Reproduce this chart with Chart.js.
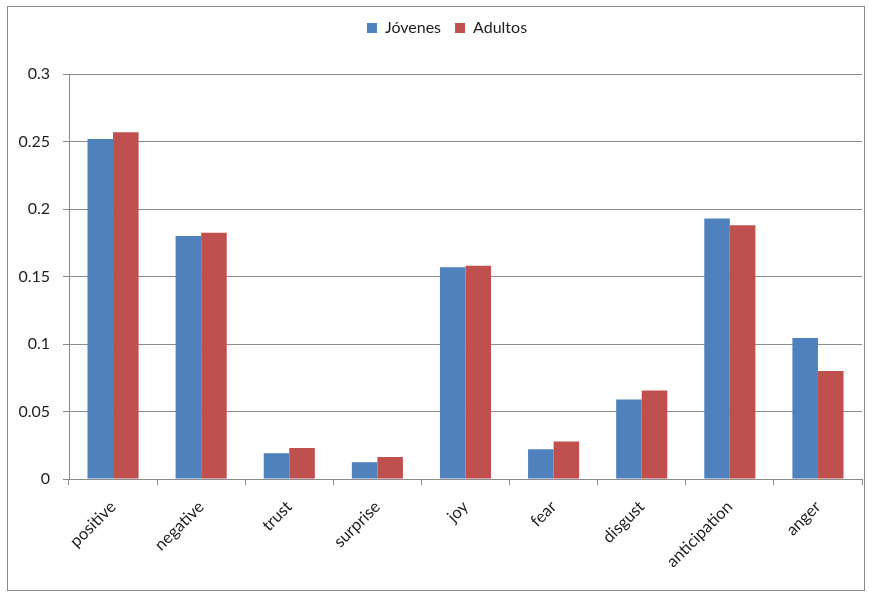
<!DOCTYPE html>
<html>
<head>
<meta charset="utf-8">
<script src="https://cdn.jsdelivr.net/npm/chart.js@4/dist/chart.umd.min.js"></script>
<style>
    html, body { margin: 0; padding: 0; background: #fff; }
    #wrap { position: relative; width: 869px; height: 594px; }
    #frame { position: absolute; left: 7px; top: 6px; width: 858px; height: 585px; border: 1px solid #8c8c8c; box-sizing: border-box; pointer-events: none; }
    canvas { position: absolute; left: 0; top: 0; }
</style>
</head>
<body>
<div id="wrap">
    <canvas id="emotionChart" width="869" height="594"></canvas>
    <div id="frame"></div>
</div>
<script>
// Emotion proportions per age group
const categories = ['positive', 'negative', 'trust', 'surprise', 'joy', 'fear', 'disgust', 'anticipation', 'anger'];
const jovenes = [0.252, 0.180, 0.019, 0.0125, 0.157, 0.022, 0.059, 0.193, 0.1045];
const adultos = [0.257, 0.1825, 0.023, 0.0163, 0.158, 0.0277, 0.0655, 0.188, 0.080];
const yTicks = [0, 0.05, 0.1, 0.15, 0.2, 0.25, 0.3];

const font = "Lato, 'Liberation Sans', sans-serif";
const padLeft = 10;
const padRight = 7;

// nudge the legend right so it sits centred over the plot
const legendShift = {
    id: 'legendShift',
    afterLayout(chart) {
        chart.legend.left += 11;
        chart.legend.right += 11;
    }
};

let ctx = document.getElementById('emotionChart').getContext('2d');

new Chart(ctx, {
    type: 'bar',
    data: {
        labels: categories,
        datasets: [
            {
                label: 'Jóvenes',
                data: jovenes,
                backgroundColor: '#4F81BD',
                borderWidth: 0
            },
            {
                label: 'Adultos',
                data: adultos,
                backgroundColor: '#C0504D',
                borderWidth: 0
            }
        ]
    },
    plugins: [legendShift],
    options: {
        responsive: false,
        animation: false,
        devicePixelRatio: 1,
        layout: {
            padding: { left: padLeft, right: padRight, top: 6, bottom: 0 }
        },
        datasets: {
            bar: {
                categoryPercentage: 0.58,
                barPercentage: 1
            }
        },
        scales: {
            x: {
                grid: {
                    display: true,
                    offset: true,
                    drawOnChartArea: false,
                    drawTicks: true,
                    tickLength: 6,
                    color: '#8c8c8c'
                },
                border: { display: true, color: '#8c8c8c', width: 1 },
                ticks: {
                    color: '#1e1e1e',
                    font: { family: font, size: 16.5 },
                    minRotation: 45,
                    maxRotation: 45,
                    padding: 12
                },
                afterFit: function (scale) {
                    scale.height = 115;
                }
            },
            y: {
                min: 0,
                max: 0.3,
                afterBuildTicks: function (scale) {
                    scale.ticks = yTicks.map(v => ({ value: v }));
                },
                grid: {
                    color: '#8c8c8c',
                    drawTicks: true,
                    tickLength: 6
                },
                border: { display: true, color: '#8c8c8c', width: 1 },
                ticks: {
                    color: '#1e1e1e',
                    font: { family: font, size: 16 },
                    padding: 13,
                    callback: v => String(+v.toFixed(2))
                },
                afterFit: function (scale) {
                    scale.width = 69 - padLeft;
                }
            }
        },
        plugins: {
            legend: {
                display: true,
                position: 'top',
                labels: {
                    color: '#1e1e1e',
                    font: { family: font, size: 16 },
                    boxWidth: 10,
                    boxHeight: 10,
                    padding: 14
                }
            },
            // empty spacer between legend and plot
            subtitle: {
                display: true,
                text: ' ',
                weight: 500,
                font: { size: 1 },
                padding: { top: 0, bottom: 27 }
            },
            tooltip: { enabled: false }
        }
    }
});
</script>
</body>
</html>
